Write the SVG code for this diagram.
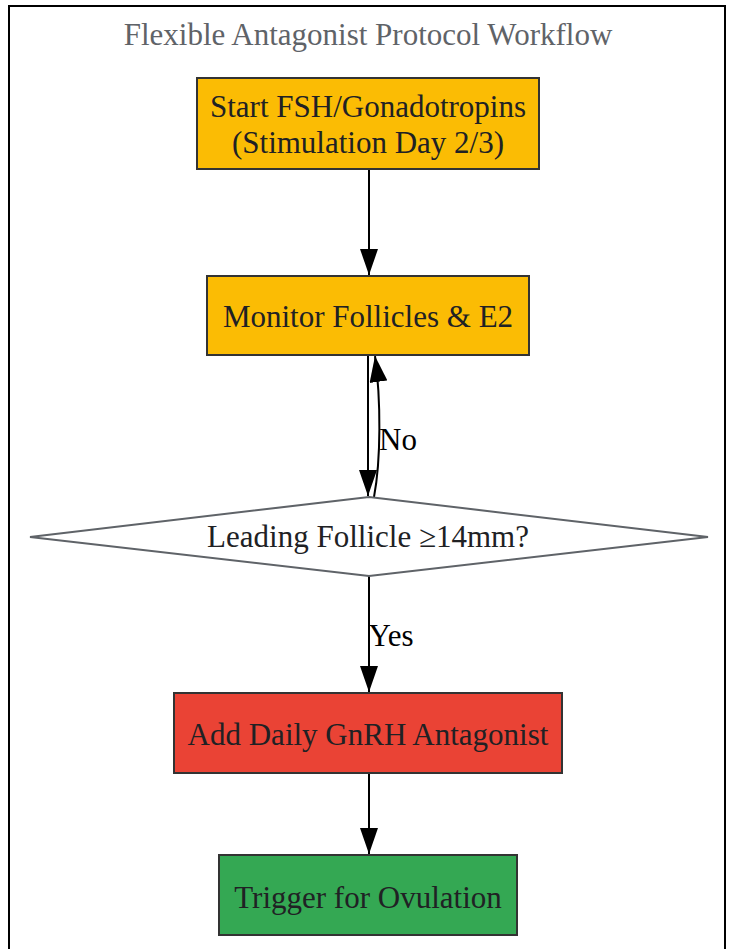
<svg xmlns="http://www.w3.org/2000/svg" width="732" height="949" viewBox="0 0 732 949">
<style>
text{font-family:"Liberation Serif","Times New Roman",serif;font-size:31px;fill:#202124;text-anchor:middle}
.title{fill:#5f6368}
.box{stroke:#333333;stroke-width:2}
.edge{stroke:#000;stroke-width:2;fill:none}
.lbl{fill:#000}
</style>
<defs>
<marker id="arr" viewBox="0 0 26 18" refX="26" refY="9" markerWidth="26" markerHeight="18" markerUnits="userSpaceOnUse" orient="auto">
<path d="M0,0 L26,9 L0,18 z" fill="#000"/>
</marker>
</defs>
<rect x="0" y="0" width="732" height="949" fill="#fff"/>
<rect x="9" y="6" width="716" height="960" fill="#fff" stroke="#000" stroke-width="2"/>
<text class="title" x="368" y="45">Flexible Antagonist Protocol Workflow</text>
<g id="connectors">
<line class="edge" x1="369" y1="169" x2="369" y2="275" marker-end="url(#arr)"/>
<line class="edge" x1="368" y1="355" x2="368" y2="496" marker-end="url(#arr)"/>
<path class="edge" d="M374,497 C381,460 381,400 375,356" marker-end="url(#arr)"/>
<text class="lbl" x="398" y="450">No</text>
<line class="edge" x1="369" y1="576" x2="369" y2="692" marker-end="url(#arr)"/>
<text class="lbl" x="391" y="646">Yes</text>
<line class="edge" x1="369" y1="773" x2="369" y2="854" marker-end="url(#arr)"/>
</g>
<g id="start">
<rect class="box" x="197" y="78" width="342" height="91" fill="#fbbc04"/>
<text x="368" y="117">Start FSH/Gonadotropins</text>
<text x="368" y="153">(Stimulation Day 2/3)</text>
</g>
<g id="monitor">
<rect class="box" x="207" y="276" width="322" height="79" fill="#fbbc04"/>
<text x="368" y="327">Monitor Follicles &amp; E2</text>
</g>
<g id="decision">
<polygon points="30,537 369,497 708,537 369,576" fill="#fff" stroke="#5f6368" stroke-width="2"/>
<text x="368" y="547">Leading Follicle ≥14mm?</text>
</g>
<g id="antagonist">
<rect class="box" x="174" y="693" width="388" height="80" fill="#ea4335"/>
<text x="368" y="745">Add Daily GnRH Antagonist</text>
</g>
<g id="trigger">
<rect class="box" x="219" y="855" width="298" height="80" fill="#34a853"/>
<text x="368" y="908">Trigger for Ovulation</text>
</g>
</svg>
